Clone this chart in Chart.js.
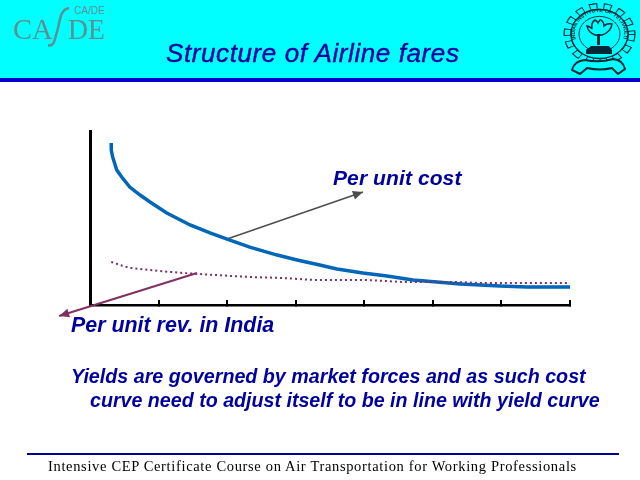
<!DOCTYPE html>
<html><head><meta charset="utf-8">
<script src="https://cdn.jsdelivr.net/npm/chart.js@4/dist/chart.umd.min.js"></script>
<style>
html,body{margin:0;padding:0;background:#fff;overflow:hidden}
#wrap{position:relative;width:640px;height:480px;overflow:hidden;background:#fff}
#band{position:absolute;left:0;top:0;width:640px;height:78px;background:#00ffff}
#bar{position:absolute;left:0;top:78px;width:640px;height:4px;background:#0000d0}
#foot{position:absolute;left:27px;top:453px;width:592px;height:2px;background:#000090}
canvas{position:absolute;left:0;top:0}
.t{position:absolute;white-space:nowrap;font-family:"Liberation Sans",Arial,sans-serif;font-style:italic;font-weight:bold;color:#0000a0;line-height:1}
.s{position:absolute;white-space:nowrap;font-family:"Liberation Serif",serif;color:#5f8f8f;line-height:1;transform-origin:0 0}
svg{position:absolute;left:0;top:0}
</style></head><body>
<div id="wrap">
<div id="band"></div><div id="bar"></div><div id="foot"></div>
<canvas id="c" width="640" height="480"></canvas>
<div class="s" style="left:13px;top:14px;font-size:30px;transform:scaleX(.95)">CA</div>
<div class="s" style="left:68px;top:14px;font-size:30px;transform:scaleX(.92)">DE</div>
<div class="s" style="left:74px;top:6px;font-size:10px;font-family:'Liberation Sans'">CA/DE</div>
<svg width="640" height="82" viewBox="0 0 640 82">
<path d="M48 45q5 2 7-6q3-10 5-20q2-10 9-11" fill="none" stroke="#5f8f8f" stroke-width="2.5"/>
<g transform="translate(599.5 34) scale(1 .86)">
<circle r="32" fill="none" stroke="#002838" stroke-width="8" stroke-dasharray="8 6.05"/>
<circle r="32" fill="none" stroke="#00ffff" stroke-width="5.5" stroke-dasharray="6 8.05" stroke-dashoffset="-1"/>
<circle r="28.5" fill="#00ffff" stroke="#002838" stroke-width="1.5"/>
<circle r="20.5" fill="#00ffff" stroke="#002838" stroke-width="1"/>
<path id="ring" d="M-23.5 6a24.5 24.5 0 1 1 47 0" fill="none"/>
<text font-family="Liberation Sans" font-size="5.5" font-weight="bold" fill="#002838"><textPath href="#ring">INDIAN INSTITUTE OF TECHNOLOGY</textPath></text>
</g>
<path d="M587 26q4 1 5 3q-1-7 3-9q2 1 3 3q2-4 3-3q3 2 3 6q3-3 8-2q-1 8-10 11h-7q-7-3-8-9z" fill="#00ffff" stroke="#002838" stroke-width="1.5"/>
<path d="M597 34h3v11h-3z" fill="#002838"/>
<path d="M586 50l5-4h18l3 4v4h-26z" fill="#002838"/>
<path d="M572 70q2-9 13-10q15 3 28-1q10 1 12 10l-7 5-6-6q-12 3-25 0l-7 6z" fill="#00ffff" stroke="#002838" stroke-width="2"/>
</svg>
<div class="t" style="left:166px;top:40px;font-size:26px;font-weight:normal;letter-spacing:.6px;-webkit-text-stroke:.4px #0000a0">Structure of Airline fares</div>
<div class="t" style="left:333px;top:167px;font-size:21px;letter-spacing:.1px">Per unit cost</div>
<div class="t" style="left:71px;top:315px;font-size:21.4px">Per unit rev. in India</div>
<div class="t" style="left:71px;top:367px;font-size:19.7px">Yields are governed by market forces and as such cost</div>
<div class="t" style="left:90px;top:391px;font-size:19.65px">curve need to adjust itself to be in line with yield curve</div>
<div class="s" style="left:48px;top:459px;font-size:14.5px;color:#000;letter-spacing:.66px">Intensive CEP Certificate Course on Air Transportation for Working Professionals</div>
</div>
<script>
const costX=[0.31,0.31,0.33,0.39,0.46,0.58,0.73,0.875,1.12,1.46,1.75,2.0,2.33,2.73,3.02,3.35,3.6,3.98,4.33,4.71,5.06,5.4,5.98,6.37,7];
const costY=[93.1,89.1,85.1,77.6,73.7,67.8,63.2,59.2,52.9,46,41.4,37.9,33.3,28.7,25.9,23,20.7,18.4,16.7,14.4,13.2,12.1,10.9,10.3,10.3];
const revX=[0.31,0.54,0.875,1.36,1.85,2.33,2.81,3.35,3.94,4.67,5.29,5.78,7];
const revY=[24.7,21.8,20.1,18.4,17.2,16.1,15.5,14.4,14.4,13.2,13.2,12.6,12.6];
const costArrowX=[2.0,3.98];
const costArrowY=[37.9,64.9];
const revArrowX=[1.56,-0.45];
const revArrowY=[18.4,-6.3];
const pts=(xs,ys)=>xs.map((x,i)=>({x,y:ys[i]}));
const arrowHeads={id:'arrowHeads',afterDatasetsDraw(chart){
  const {ctx,scales:{x,y}}=chart;
  [[costArrowX,costArrowY,'#4d4d4d'],[revArrowX,revArrowY,'#803060']].forEach(([xs,ys,col])=>{
    const x0=x.getPixelForValue(xs[0]),y0=y.getPixelForValue(ys[0]);
    const x1=x.getPixelForValue(xs[1]),y1=y.getPixelForValue(ys[1]);
    const a=Math.atan2(y1-y0,x1-x0);
    ctx.save();ctx.translate(x1,y1);ctx.rotate(a);
    ctx.fillStyle=col;ctx.beginPath();ctx.moveTo(0,0);ctx.lineTo(-10,-4.5);ctx.lineTo(-10,4.5);ctx.closePath();ctx.fill();
    ctx.restore();
  });
}};
new Chart(document.getElementById('c'),{
 type:'scatter',
 plugins:[arrowHeads],
 data:{datasets:[
  {label:'Per unit cost arrow',data:pts(costArrowX,costArrowY),showLine:true,borderColor:'#4d4d4d',borderWidth:1.5,pointRadius:0,clip:false,order:3},
  {label:'Per unit rev. arrow',data:pts(revArrowX,revArrowY),showLine:true,borderColor:'#803060',borderWidth:2,pointRadius:0,clip:false,order:3},
  {label:'Per unit cost',data:pts(costX,costY),showLine:true,borderColor:'#0066b8',borderWidth:3.5,pointRadius:0,tension:0,clip:false,order:2},
  {label:'Per unit rev. in India',data:pts(revX,revY),showLine:true,borderColor:'#803060',borderWidth:2,borderDash:[2,3],pointRadius:0,cubicInterpolationMode:'monotone',clip:false,order:1}
 ]},
 options:{
  responsive:false,animation:false,devicePixelRatio:1,
  layout:{padding:{left:90,right:70,top:131,bottom:175}},
  plugins:{legend:{display:false},title:{display:false},tooltip:{enabled:false}},
  scales:{
   x:{type:'linear',min:0,max:7,
      afterFit:s=>{s.height=0},
      ticks:{display:false,stepSize:1},
      grid:{display:true,drawOnChartArea:false,drawTicks:true,tickLength:-5,color:'#000',lineWidth:2},
      border:{display:true,color:'#000',width:2.5}},
   y:{type:'linear',min:0,max:100,
      afterFit:s=>{s.width=0},
      ticks:{display:false},
      grid:{display:false},
      border:{display:true,color:'#000',width:3}}
  }
 }
});
</script>
</body></html>
